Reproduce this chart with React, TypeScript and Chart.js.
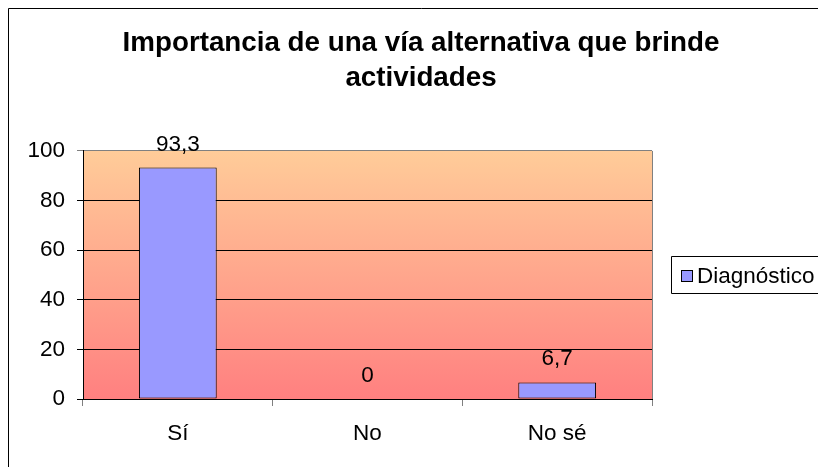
import React, { useEffect, useRef } from 'react';
import { Chart, registerables } from 'chart.js';

Chart.register(...registerables);

const categories = ['Sí', 'No', 'No sé'];
const seriesName = 'Diagnóstico';
const values = [93.3, 0, 6.7];
const valueLabels = ['93,3', '0', '6,7'];
const titleLines = ['Importancia de una vía alternativa que brinde', 'actividades'];
const yMin = 0;
const yMax = 100;
const yStep = 20;

const FONT = "'Liberation Sans', Arial, Helvetica, sans-serif";
const FS = 22.5;
const CW = 826;
const CH = 462;

const backgroundPlugin = {
  id: 'bgGradient',
  beforeDraw(chart: any) {
    const { ctx, chartArea: a } = chart;
    ctx.save();
    ctx.fillStyle = '#ffffff';
    ctx.fillRect(0, 0, chart.width, chart.height);
    const g = ctx.createLinearGradient(0, a.top, 0, a.bottom);
    g.addColorStop(0, '#FFCC99');
    g.addColorStop(1, '#FF8080');
    ctx.fillStyle = g;
    ctx.fillRect(a.left, a.top, a.right - a.left, a.bottom - a.top);
    ctx.restore();
  },
};

const valueLabelPlugin = {
  id: 'valueLabels',
  afterDatasetsDraw(chart: any) {
    const { ctx } = chart;
    const meta = chart.getDatasetMeta(0);
    ctx.save();
    ctx.font = `${FS}px ${FONT}`;
    ctx.fillStyle = '#000';
    ctx.textAlign = 'center';
    ctx.textBaseline = 'alphabetic';
    meta.data.forEach((bar: any, i: number) => {
      ctx.fillText(valueLabels[i], bar.x, bar.y - 17);
    });
    ctx.restore();
  },
};

const framePlugin = {
  id: 'frameAndLegend',
  afterDraw(chart: any) {
    const { ctx, chartArea: a } = chart;
    ctx.save();
    // plot area right edge (grey)
    ctx.strokeStyle = '#808080';
    ctx.lineWidth = 1;
    ctx.beginPath();
    ctx.moveTo(Math.round(a.right) + 0.5, a.top);
    ctx.lineTo(Math.round(a.right) + 0.5, a.bottom);
    ctx.stroke();
    // outer chart border (left & top visible)
    ctx.strokeStyle = '#000';
    ctx.beginPath();
    ctx.moveTo(0.5, chart.height);
    ctx.lineTo(0.5, 0.5);
    ctx.lineTo(chart.width, 0.5);
    ctx.stroke();
    // legend
    const ds = chart.data.datasets[0];
    const cy = Math.round((a.top + a.bottom) / 2);
    const left = Math.round(a.right) + 19;
    const top = cy - 19;
    const h = 37;
    const w = 220;
    ctx.fillStyle = '#fff';
    ctx.fillRect(left, top, w, h);
    ctx.strokeStyle = '#000';
    ctx.beginPath();
    ctx.moveTo(left + w, top + 0.5);
    ctx.lineTo(left + 0.5, top + 0.5);
    ctx.lineTo(left + 0.5, top + h + 0.5);
    ctx.lineTo(left + w, top + h + 0.5);
    ctx.stroke();
    ctx.fillStyle = ds.backgroundColor;
    ctx.fillRect(left + 10, cy - 5, 12, 12);
    ctx.strokeRect(left + 10.5, cy - 4.5, 11, 11);
    ctx.fillStyle = '#000';
    ctx.font = `${FS}px ${FONT}`;
    ctx.textAlign = 'left';
    ctx.textBaseline = 'alphabetic';
    ctx.fillText(ds.label, left + 26, cy + 8);
    ctx.restore();
  },
};

export default function App() {
  const ref = useRef<HTMLCanvasElement | null>(null);

  useEffect(() => {
    if (!ref.current) return;
    const chart = new Chart(ref.current, {
      type: 'bar',
      data: {
        labels: categories,
        datasets: [
          {
            label: seriesName,
            data: values,
            backgroundColor: '#9999FF',
            borderColor: '#000000',
            borderWidth: (c: any) => (c.raw === 0 ? 0 : 1),
            borderSkipped: false,
            categoryPercentage: 1,
            barPercentage: 0.41,
          } as any,
        ],
      },
      options: {
        responsive: false,
        animation: false,
        devicePixelRatio: 1,
        layout: { padding: 0 },
        plugins: {
          legend: { display: false },
          tooltip: { enabled: false },
          title: {
            display: true,
            text: titleLines,
            color: '#000',
            font: { family: FONT, size: 27.75, weight: 'bold', lineHeight: 1.26 },
            padding: { top: 18, bottom: 55 },
          },
        },
        scales: {
          x: {
            grid: {
              display: true,
              drawOnChartArea: false,
              drawTicks: true,
              tickLength: 7,
              color: '#808080',
              offset: true,
            },
            border: { display: true, color: '#000', width: 1 },
            ticks: { color: '#000', font: { family: FONT, size: FS }, padding: 14 },
            afterFit: (s: any) => {
              s.height = 71;
            },
          },
          y: {
            min: yMin,
            max: yMax,
            ticks: {
              stepSize: yStep,
              color: '#000',
              font: { family: FONT, size: FS },
              padding: 12,
            },
            grid: {
              color: (c: any) => (c.tick && c.tick.value === yMax ? '#808080' : '#000'),
              tickLength: 6,
            },
            border: { display: true, color: '#000', width: 1 },
            afterFit: (s: any) => {
              s.width = 75;
            },
          },
          yRight: {
            type: 'linear',
            position: 'right',
            display: true,
            grid: { display: false, drawTicks: false },
            ticks: { display: false },
            border: { display: false },
            afterFit: (s: any) => {
              s.width = 182;
            },
          },
        },
      } as any,
      plugins: [backgroundPlugin, valueLabelPlugin, framePlugin],
    });
    return () => chart.destroy();
  }, []);

  return (
    <>
      <style>{'html, body { overflow: hidden; margin: 0; padding: 0; }'}</style>
      <div
        style={{
          position: 'absolute',
          left: 8,
          top: 8,
          width: 810,
          height: 459,
          overflow: 'hidden',
        }}
      >
        <canvas
          ref={ref}
          width={CW}
          height={CH}
          style={{ display: 'block', width: CW, height: CH }}
        />
      </div>
    </>
  );
}
